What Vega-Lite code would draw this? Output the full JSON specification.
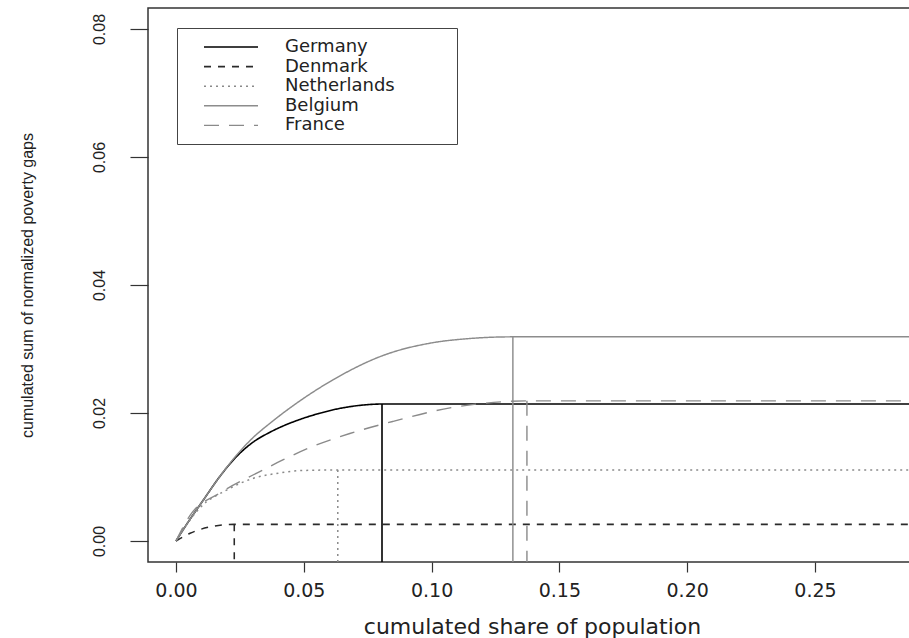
{
  "$schema": "https://vega.github.io/schema/vega-lite/v6.json",
  "width": 770,
  "height": 554,
  "autosize": {"type": "none"},
  "padding": {"left": 148, "top": 8, "right": 0, "bottom": 76},
  "background": "white",
  "config": {
    "view": {"stroke": "#333333", "strokeWidth": 1.5},
    "axis": {"domain": false, "grid": false, "tickColor": "#333333", "tickWidth": 1.2, "labelColor": "#222222", "titleColor": "#222222"}
  },
  "data": {
    "values": [
      {"country": "Germany", "part": "c", "x": 0, "y": 0},
      {"country": "Germany", "part": "c", "x": 0.004, "y": 0.0025},
      {"country": "Germany", "part": "c", "x": 0.0107, "y": 0.0064},
      {"country": "Germany", "part": "c", "x": 0.017, "y": 0.0100},
      {"country": "Germany", "part": "c", "x": 0.0237, "y": 0.0132},
      {"country": "Germany", "part": "c", "x": 0.030, "y": 0.0154},
      {"country": "Germany", "part": "c", "x": 0.0368, "y": 0.0170},
      {"country": "Germany", "part": "c", "x": 0.0485, "y": 0.0190},
      {"country": "Germany", "part": "c", "x": 0.0557, "y": 0.0199},
      {"country": "Germany", "part": "c", "x": 0.0615, "y": 0.0205},
      {"country": "Germany", "part": "c", "x": 0.070, "y": 0.0211},
      {"country": "Germany", "part": "c", "x": 0.0806, "y": 0.0214},
      {"country": "Germany", "part": "c", "x": 0.30, "y": 0.0214},
      {"country": "Germany", "part": "v", "x": 0.0806, "y": 0.0214},
      {"country": "Germany", "part": "v", "x": 0.0806, "y": -0.005},
      {"country": "Denmark", "part": "c", "x": 0, "y": 0},
      {"country": "Denmark", "part": "c", "x": 0.0055, "y": 0.0012},
      {"country": "Denmark", "part": "c", "x": 0.0133, "y": 0.0022},
      {"country": "Denmark", "part": "c", "x": 0.0228, "y": 0.0026},
      {"country": "Denmark", "part": "c", "x": 0.30, "y": 0.0026},
      {"country": "Denmark", "part": "v", "x": 0.0228, "y": 0.0026},
      {"country": "Denmark", "part": "v", "x": 0.0228, "y": -0.005},
      {"country": "Netherlands", "part": "c", "x": 0, "y": 0},
      {"country": "Netherlands", "part": "c", "x": 0.0094, "y": 0.0052},
      {"country": "Netherlands", "part": "c", "x": 0.020, "y": 0.0080},
      {"country": "Netherlands", "part": "c", "x": 0.0303, "y": 0.0098},
      {"country": "Netherlands", "part": "c", "x": 0.040, "y": 0.0106},
      {"country": "Netherlands", "part": "c", "x": 0.0485, "y": 0.0110},
      {"country": "Netherlands", "part": "c", "x": 0.0633, "y": 0.0111},
      {"country": "Netherlands", "part": "c", "x": 0.30, "y": 0.0111},
      {"country": "Netherlands", "part": "v", "x": 0.0633, "y": 0.0111},
      {"country": "Netherlands", "part": "v", "x": 0.0633, "y": -0.005},
      {"country": "Belgium", "part": "c", "x": 0, "y": 0},
      {"country": "Belgium", "part": "c", "x": 0.004, "y": 0.0025},
      {"country": "Belgium", "part": "c", "x": 0.0107, "y": 0.0064},
      {"country": "Belgium", "part": "c", "x": 0.017, "y": 0.0100},
      {"country": "Belgium", "part": "c", "x": 0.0237, "y": 0.0134},
      {"country": "Belgium", "part": "c", "x": 0.030, "y": 0.0161},
      {"country": "Belgium", "part": "c", "x": 0.0368, "y": 0.0184},
      {"country": "Belgium", "part": "c", "x": 0.0485, "y": 0.0219},
      {"country": "Belgium", "part": "c", "x": 0.0615, "y": 0.0252},
      {"country": "Belgium", "part": "c", "x": 0.0811, "y": 0.0290},
      {"country": "Belgium", "part": "c", "x": 0.1007, "y": 0.0310},
      {"country": "Belgium", "part": "c", "x": 0.1137, "y": 0.0316},
      {"country": "Belgium", "part": "c", "x": 0.1318, "y": 0.0319},
      {"country": "Belgium", "part": "c", "x": 0.30, "y": 0.0319},
      {"country": "Belgium", "part": "v", "x": 0.1318, "y": 0.0319},
      {"country": "Belgium", "part": "v", "x": 0.1318, "y": -0.005},
      {"country": "France", "part": "c", "x": 0, "y": 0},
      {"country": "France", "part": "c", "x": 0.0055, "y": 0.0040},
      {"country": "France", "part": "c", "x": 0.0172, "y": 0.0075},
      {"country": "France", "part": "c", "x": 0.0316, "y": 0.0106},
      {"country": "France", "part": "c", "x": 0.042, "y": 0.0127},
      {"country": "France", "part": "c", "x": 0.0524, "y": 0.0146},
      {"country": "France", "part": "c", "x": 0.068, "y": 0.0168},
      {"country": "France", "part": "c", "x": 0.085, "y": 0.0187},
      {"country": "France", "part": "c", "x": 0.1072, "y": 0.0208},
      {"country": "France", "part": "c", "x": 0.1202, "y": 0.0215},
      {"country": "France", "part": "c", "x": 0.1373, "y": 0.0219},
      {"country": "France", "part": "c", "x": 0.30, "y": 0.0219},
      {"country": "France", "part": "v", "x": 0.1373, "y": 0.0219},
      {"country": "France", "part": "v", "x": 0.1373, "y": -0.005}
    ]
  },
  "encoding": {
    "x": {
      "field": "x", "type": "quantitative",
      "scale": {"domain": [-0.01095, 0.2903], "nice": false, "zero": false},
      "axis": {
        "values": [0, 0.05, 0.1, 0.15, 0.2, 0.25], "format": ".2f",
        "title": "cumulated share of population",
        "tickSize": 10, "labelPadding": 9,
        "labelFont": "DejaVu Sans", "labelFontSize": 19,
        "titleFont": "DejaVu Sans", "titleFontSize": 22, "titleFontWeight": "normal",
        "titleX": 384, "titleY": 71, "titleAlign": "center", "titleBaseline": "alphabetic"
      }
    },
    "y": {
      "field": "y", "type": "quantitative",
      "scale": {"domain": [-0.00328, 0.08328], "nice": false, "zero": false},
      "axis": {
        "values": [0, 0.02, 0.04, 0.06, 0.08], "format": ".2f",
        "title": "cumulated sum of normalized poverty gaps",
        "tickSize": 18, "labelAngle": 270, "labelAlign": "center", "labelBaseline": "bottom", "labelPadding": 23,
        "labelFont": "Liberation Sans", "labelFontSize": 16,
        "titleFont": "Liberation Sans", "titleFontSize": 16, "titleFontWeight": "normal",
        "titleAngle": 270, "titleX": -121, "titleY": 277, "titleAlign": "center", "titleBaseline": "middle"
      }
    },
    "color": {
      "field": "country", "type": "nominal",
      "scale": {"domain": ["Germany", "Denmark", "Netherlands", "Belgium", "France"], "range": ["#000000", "#2a2a2a", "#8a8a8a", "#8c8c8c", "#8a8a8a"]},
      "legend": {
        "orient": "none", "legendX": 29, "legendY": 20, "title": null,
        "symbolType": "M-3,0H3", "symbolSize": 324, "symbolStrokeWidth": 1.5, "symbolOffset": 35,
        "labelFont": "DejaVu Sans", "labelFontSize": 18, "labelOffset": 44, "labelColor": "#222222", "labelLimit": 400,
        "labelExpr": "datum.label + '\u2800\u2800\u2800\u2800'",
        "padding": 9, "rowPadding": 0.6, "strokeColor": "#444444", "fillColor": "white"
      }
    },
    "strokeDash": {
      "field": "country", "type": "nominal",
      "scale": {"domain": ["Germany", "Denmark", "Netherlands", "Belgium", "France"], "range": [[1, 0], [7, 7], [2, 4], [1, 0], [15, 10]]},
      "legend": {
        "orient": "none", "legendX": 29, "legendY": 20, "title": null,
        "symbolType": "M-3,0H3", "symbolSize": 324, "symbolStrokeWidth": 1.5, "symbolOffset": 35,
        "labelFont": "DejaVu Sans", "labelFontSize": 18, "labelOffset": 44, "labelColor": "#222222", "labelLimit": 400,
        "labelExpr": "datum.label + '\u2800\u2800\u2800\u2800'",
        "padding": 9, "rowPadding": 0.6, "strokeColor": "#444444", "fillColor": "white"
      }
    },
    "strokeWidth": {
      "field": "country", "type": "nominal",
      "scale": {"domain": ["Germany", "Denmark", "Netherlands", "Belgium", "France"], "range": [1.6, 1.4, 1.4, 2.6, 2.0]},
      "legend": null
    }
  },
  "layer": [
    {
      "transform": [{"filter": "datum.part == 'c'"}],
      "mark": {"type": "line", "interpolate": "monotone", "clip": true}
    },
    {
      "transform": [{"filter": "datum.part == 'v'"}],
      "mark": {"type": "line", "clip": true}
    }
  ]
}
